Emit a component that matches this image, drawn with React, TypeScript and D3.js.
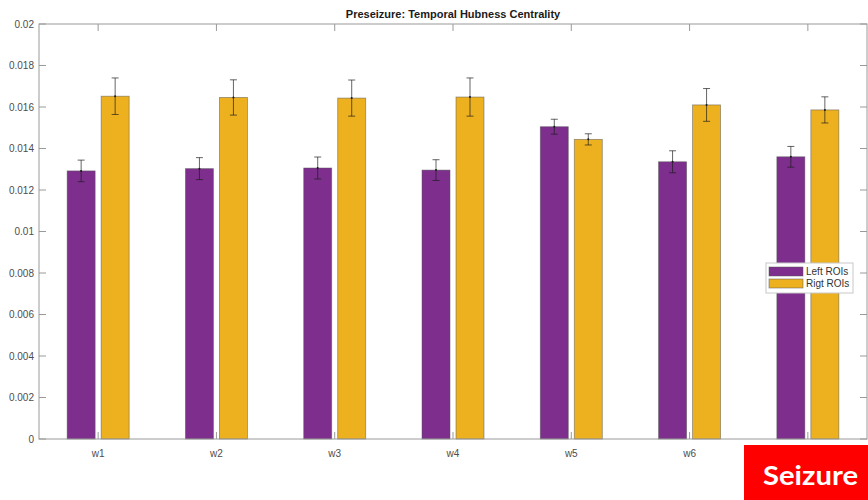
import React from "react";
import * as d3 from "d3";

const categories = ["w1", "w2", "w3", "w4", "w5", "w6", "w7"];
const leftValues = [0.01292, 0.01303, 0.01306, 0.01296, 0.01505, 0.01336, 0.0136];
const leftErrors = [0.00052, 0.00053, 0.00053, 0.0005, 0.00036, 0.00053, 0.0005];
const rightValues = [0.01652, 0.01646, 0.01643, 0.01648, 0.01444, 0.0161, 0.01586];
const rightErrors = [0.00088, 0.00085, 0.00087, 0.00092, 0.00027, 0.00079, 0.00063];
const yTicks = [0, 0.002, 0.004, 0.006, 0.008, 0.01, 0.012, 0.014, 0.016, 0.018, 0.02];
const seriesNames = ["Left ROIs", "Rigt ROIs"];
const title = "Preseizure: Temporal Hubness Centrality";

const W = 868;
const H = 500;
const L = 39;
const R = 867;
const T = 24;
const B = 439;
const PURPLE = "#7E2F8E";
const YELLOW = "#EDB120";
const AXIS = "#9a9a9a";
const LABEL = "#4d4d4d";

export default function App() {
  const x = d3.scaleLinear().domain([0.5, categories.length + 0.5]).range([L, R]);
  const y = d3.scaleLinear().domain([0, 0.02]).range([B, T]);
  const barW = 28;
  const off = 17;
  const tickLen = 7;
  const fmt = (v: number) => (v === 0 ? "0" : String(+v.toFixed(3)));

  const series = [
    { vals: leftValues, errs: leftErrors, color: PURPLE, dx: -off },
    { vals: rightValues, errs: rightErrors, color: YELLOW, dx: off },
  ];

  return (
    <svg width={W} height={H} style={{ position: "absolute", left: 0, top: 0, background: "#fff" }}
      fontFamily="'Liberation Sans', Arial, sans-serif">
      <rect x={0} y={0} width={W} height={H} fill="#fff" />
      {series.map((s, si) =>
        s.vals.map((v, i) => {
          const cx = x(i + 1) + s.dx;
          return (
            <rect key={`b${si}-${i}`} x={cx - barW / 2} y={y(v)} width={barW} height={B - y(v)}
              fill={s.color} stroke="#555" strokeOpacity={0.6} strokeWidth={0.8} />
          );
        })
      )}
      {series.map((s, si) =>
        s.vals.map((v, i) => {
          const cx = x(i + 1) + s.dx;
          const y1 = y(v + s.errs[i]);
          const y2 = y(v - s.errs[i]);
          return (
            <g key={`e${si}-${i}`} stroke="#1a1a1a" strokeWidth={0.8} strokeOpacity={0.85}>
              <line x1={cx} x2={cx} y1={y1} y2={y2} />
              <line x1={cx - 3.5} x2={cx + 3.5} y1={y1} y2={y1} />
              <line x1={cx - 3.5} x2={cx + 3.5} y1={y2} y2={y2} />
              <circle cx={cx} cy={y(v)} r={1} fill="#1a1a1a" stroke="none" />
            </g>
          );
        })
      )}
      <rect x={L} y={T} width={R - L} height={B - T} fill="none" stroke={AXIS} strokeWidth={1} />
      {yTicks.map((t) => (
        <g key={`yt${t}`}>
          <line x1={L} x2={L + tickLen} y1={y(t)} y2={y(t)} stroke={AXIS} />
          <line x1={R - tickLen} x2={R} y1={y(t)} y2={y(t)} stroke={AXIS} />
          <text x={L - 5} y={y(t) + 3.5} fontSize={10} fill={LABEL} textAnchor="end">{fmt(t)}</text>
        </g>
      ))}
      {categories.map((c, i) => (
        <g key={`xt${c}`}>
          <line x1={x(i + 1)} x2={x(i + 1)} y1={B} y2={B - tickLen} stroke={AXIS} />
          <line x1={x(i + 1)} x2={x(i + 1)} y1={T} y2={T + tickLen} stroke={AXIS} />
          <text x={x(i + 1)} y={457} fontSize={10} fill={LABEL} textAnchor="middle">{c}</text>
        </g>
      ))}
      <text x={(L + R) / 2} y={18} fontSize={11} fontWeight="bold" fill="#1a1a1a" textAnchor="middle">{title}</text>
      <rect x={766} y={263} width={87} height={30} fill="#fff" stroke="#c8c8c8" strokeWidth={1} />
      {seriesNames.map((n, i) => (
        <g key={`lg${n}`}>
          <rect x={769} y={267 + i * 12} width={34} height={9} fill={i === 0 ? PURPLE : YELLOW}
            stroke="#555" strokeOpacity={0.6} strokeWidth={0.8} />
          <text x={806} y={275 + i * 12} fontSize={10} fill="#333">{n}</text>
        </g>
      ))}
      <rect x={744} y={445} width={124} height={55} fill="#ff0000" />
      <text x={763} y={485} fontSize={27} fontWeight="bold" fill="#fff" fontFamily="Lato, 'Open Sans', sans-serif"
        textLength={95} lengthAdjust="spacingAndGlyphs">Seizure</text>
    </svg>
  );
}
